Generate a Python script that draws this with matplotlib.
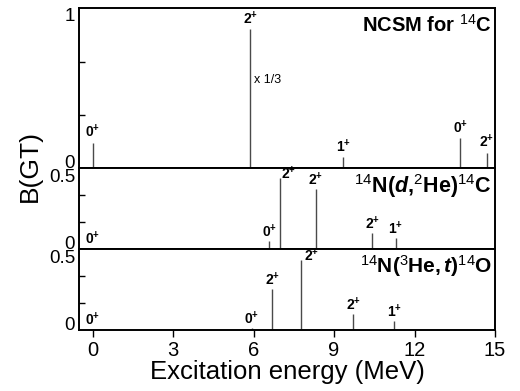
import matplotlib
matplotlib.use('Agg')
import matplotlib.pyplot as plt

plt.rcParams['font.family'] = 'Liberation Sans'
plt.rcParams['mathtext.fontset'] = 'custom'
plt.rcParams['mathtext.rm'] = 'Liberation Sans'
plt.rcParams['mathtext.bf'] = 'Liberation Sans:bold'
plt.rcParams['mathtext.it'] = 'Liberation Sans:italic'
plt.rcParams['mathtext.bfit'] = 'Liberation Sans:bold:italic'

# NCSM for 14C (2+ na 5.87 MeV pokazane x 1/3)
ncsm_e = [0.0, 5.87, 9.35, 13.71, 14.70]
ncsm_b = [0.16, 0.87, 0.069, 0.19, 0.098]
ncsm_j = ['0', '2', '1', '0', '2']

# 14N(d,2He)14C
dhe_e = [0.0, 6.59, 7.0, 8.32, 10.43, 11.31]
dhe_b = [0.004, 0.06, 0.526, 0.445, 0.118, 0.081]
dhe_j = ['0', '0', '2', '2', '2', '1']

# 14N(3He,t)14O
het_e = [0.0, 5.94, 6.70, 7.77, 9.72, 11.25]
het_b = [0.003, 0.01, 0.305, 0.523, 0.116, 0.064]
het_j = ['0', '0', '2', '2', '2', '1']

line_col = '#4a4a4a'
fig = plt.figure(figsize=(5.2, 3.91), dpi=100)

W, H = 520.0, 391.0
left, right = 79.3 / W, 495.0 / W
edges = [8.3, 168.3, 249.3, 329.7]

axes = []
for i in range(3):
    top = 1 - edges[i] / H
    bot = 1 - edges[i + 1] / H
    ax = fig.add_axes([left, bot, right - left, top - bot])
    axes.append(ax)


def panel(ax, e, b, j, ymax, shift=None):
    ax.vlines(e, 0, b, color=line_col, linewidth=1.0)
    for k, (x, y, s) in enumerate(zip(e, b, j)):
        dx, dy = 0.0, 0.0
        if shift and k in shift:
            dx, dy = shift[k]
        ax.text(x + dx, y + ymax * 0.012 + dy, r'$\mathbf{%s}^{\mathbf{+}}$' % s,
                ha='center', va='bottom', fontsize=10)
    ax.set_xlim(-0.5, 15)
    ax.set_ylim(0, ymax)
    for sp in ax.spines.values():
        sp.set_linewidth(1.4)
    ax.tick_params(axis='y', which='both', direction='in', labelsize=13.5, pad=3)
    ax.tick_params(axis='y', which='major', length=0)
    ax.tick_params(axis='y', which='minor', length=4, width=1)


def fix_labels(ax, vas):
    for lab, va in zip(ax.get_yticklabels(), vas):
        lab.set_va(va)


ax1, ax2, ax3 = axes
panel(ax1, ncsm_e, ncsm_b, ncsm_j, 1.0)
ax1.set_yticks([0, 1], ['0', '1'])
ax1.set_yticks([1 / 3, 2 / 3], minor=True)
fix_labels(ax1, ['baseline', 'top'])
ax1.text(6.0, 0.55, 'x 1/3', fontsize=9, va='center', ha='left')
ax1.text(0.993, 0.965, r'NCSM for $^{14}$C', transform=ax1.transAxes,
         ha='right', va='top', fontsize=14.5, fontweight='bold')

panel(ax2, dhe_e, dhe_b, dhe_j, 0.6, shift={2: (0.32, -0.035)})
ax2.set_yticks([0, 0.5], ['0', '0.5'])
ax2.set_yticks([0.2, 0.4], minor=True)
fix_labels(ax2, ['baseline', 'baseline'])
ax2.text(0.993, 0.95, r'$^{14}\mathbf{N(}\mathbfit{d}\mathbf{,}^{2}\mathbf{He)}^{14}\mathbf{C}$',
         transform=ax2.transAxes, ha='right', va='top', fontsize=15.5)

panel(ax3, het_e, het_b, het_j, 0.6, shift={3: (0.38, -0.045)})
ax3.set_yticks([0, 0.5], ['0', '0.5'])
ax3.set_yticks([0.2, 0.4], minor=True)
fix_labels(ax3, ['baseline', 'baseline'])
ax3.text(0.993, 0.95, r'$^{14}\mathbf{N(}^{3}\mathbf{He,}\mathbfit{t}\mathbf{)}^{14}\mathbf{O}$',
         transform=ax3.transAxes, ha='right', va='top', fontsize=15)

for ax in (ax1, ax2):
    ax.tick_params(axis='x', which='both', bottom=False, labelbottom=False)
ax3.set_xticks([0, 3, 6, 9, 12, 15])
ax3.tick_params(axis='x', direction='out', length=5, width=1, labelsize=14.5, pad=3)
ax3.set_xlabel('Excitation energy (MeV)', fontsize=18.5, labelpad=0)

fig.text(0.058, 1 - 166.0 / H, 'B(GT)', rotation=90, fontsize=19,
         ha='center', va='center')

fig.savefig('out.png', dpi=100)
